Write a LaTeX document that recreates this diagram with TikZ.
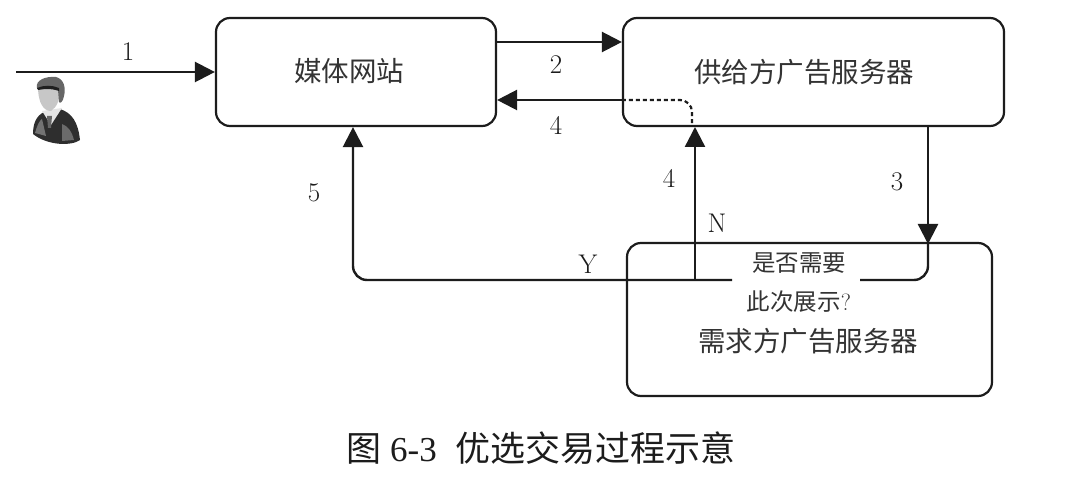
\documentclass[tikz,border=0pt]{standalone}
\usepackage{fontspec}
\setmainfont{Liberation Serif}
\newfontfamily\cjk{Noto Sans CJK SC}[Scale=1]
\newfontfamily\lmr{Latin Modern Roman}
\usetikzlibrary{arrows.meta,calc}
\definecolor{ink}{HTML}{1C1C1C}
\tikzset{
  x=1pt,y=-1pt,
  flowbox/.style={draw=ink,line width=2.2pt,rounded corners=14pt,inner sep=0pt},
  wire/.style={draw=ink,line width=2.4pt},
  flow/.style={wire,-{Triangle[length=20pt,width=20pt]}},
  boxtext/.style={font=\fontsize{27.5}{32}\selectfont\cjk,text=ink!90,inner sep=0pt},
  asktext/.style={font=\fontsize{23.5}{39}\selectfont\cjk,text=ink!90,align=center,inner sep=0pt},
  tag/.style={font=\fontsize{27}{32}\selectfont\lmr,text=ink,inner sep=0pt},
}
\begin{document}
\begin{tikzpicture}
\useasboundingbox (0,0) rectangle (1074,478);
\fill[white] (0,0) rectangle (1074,478);

% servers
\node[flowbox,minimum width=280pt,minimum height=108pt] (media) at (356,72) {};
\node[flowbox,minimum width=381pt,minimum height=108pt] (supply) at (813.5,72) {};
\node[flowbox,minimum width=365pt,minimum height=153pt] (demand) at (809.5,319.5) {};
\node[boxtext] (medialabel) at (349,71) {媒体网站};
\node[boxtext] (supplylabel) at (804,72) {供给方广告服务器};
\node[boxtext] (demandlabel) at (808,341) {需求方广告服务器};
\node[asktext] (ask) at (799,283) {是否需要\\此次展示{\lmr ?}};

% anchor points for the connectors
\coordinate (user) at (16,72);
\coordinate (out2) at (media.east |- 0,42);
\coordinate (in2) at (supply.west |- 0,42);
\coordinate (out4) at (supply.west |- 0,100);
\coordinate (in4) at (media.east |- 0,100);
\coordinate (nIn) at (695,127);
\coordinate (askLeft) at (732,280);
\coordinate (askRight) at (860,280);
\coordinate (nBase) at (nIn |- askLeft);
\coordinate (dotEnd) at (692,126);
\coordinate (fromSupply) at (928,126);
\coordinate (toDemand) at (928,244);

% connectors
\draw[flow] (user) -- (media.west);
\draw[flow] (out2) -- (in2);
\draw[flow] (out4) -- (in4);
\draw[ink,line width=2.2pt,dash pattern=on 4pt off 3pt,rounded corners=12pt] (out4) -| (dotEnd);
\draw[flow] (nBase) -- (nIn);
\draw[flow,rounded corners=14pt] (askLeft) -| (media.south -| 353,0);
\draw[flow] (fromSupply) -- (toDemand);
\draw[wire,rounded corners=14pt] (toDemand) |- (askRight);

% connector labels
\node[tag] (n1) at (128,52) {1};
\node[tag] (n2) at (556,65) {2};
\node[tag] (n4a) at (556,125) {4};
\node[tag] (n4b) at (669,178) {4};
\node[tag] (n3) at (897,182) {3};
\node[tag] (n5) at (314,193) {5};
\node[tag] (ny) at (588,264) {Y};
\node[tag] (nn) at (717,223) {N};

% visitor figure
\begin{scope}
  % jacket
  \fill[black!82] (33,134) .. controls (33,124) and (36,116) .. (44,112)
    -- (60,109) .. controls (72,113) and (78,122) .. (80,140)
    .. controls (72,146) and (48,146) .. (33,134) -- cycle;
  \fill[black!55] (35,133) .. controls (37,126) and (39,121) .. (42,119) -- (46,136) -- cycle;
  \fill[black!58] (62,124) .. controls (68,126) and (72,132) .. (74,140) -- (62,141) -- cycle;
  % shirt and tie
  \fill[black!10] (42,111) -- (62,108) -- (51,125) -- cycle;
  \fill[black!60] (47,116) -- (52,116) -- (51,128) -- (48,128) -- cycle;
  % face
  \fill[black!22] (38,86) .. controls (38,104) and (44,111) .. (51,111)
    .. controls (57,107) and (60,100) .. (60,88) -- cycle;
  % hair
  \fill[black!60] (37,88) .. controls (35,80) and (46,76) .. (56,77)
    .. controls (64,79) and (66,88) .. (64,96)
    .. controls (63,102) and (60,104) .. (59,102)
    -- (58,90) .. controls (50,87) and (44,89) .. (37,89) -- cycle;
  \fill[black!88] (37,88) .. controls (44,85) and (52,85) .. (59,88)
    -- (59,91) .. controls (50,88) and (44,89) .. (38,90) -- cycle;
\end{scope}

% figure caption
\node[inner sep=0pt,text=ink] (caption) at (541,448)
  {\fontsize{35}{40}\selectfont{\cjk 图}\hspace{9pt}6-3\hspace{19pt}{\cjk 优选交易过程示意}};
\end{tikzpicture}
\end{document}
